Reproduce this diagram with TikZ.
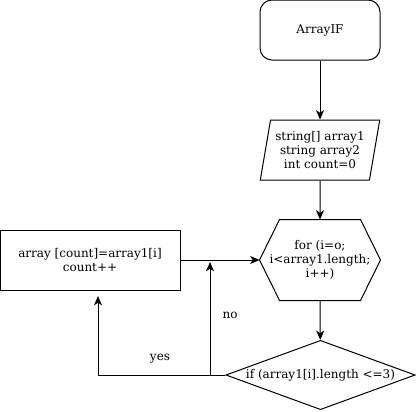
\documentclass[tikz,border=0pt]{standalone}
\usepackage{fontspec}
\setmainfont{DejaVu Serif}
\usepackage{tikz}
\usetikzlibrary{shapes.geometric,arrows.meta}

\tikzset{
  box/.style={draw, line width=0.75pt, align=center, font=\fontsize{9}{10.5}\selectfont},
  flow/.style={line width=0.75pt, -{Stealth[length=7pt,width=6pt,inset=2pt]}},
  lbl/.style={font=\fontsize{9}{10.5}\selectfont}
}

\begin{document}
\begin{tikzpicture}[x=0.75pt, y=-0.75pt]
    % canvas
    \useasboundingbox (0,0) rectangle (416,411);

    % start block
    \node[box, rounded corners=9pt, minimum width=90pt, minimum height=45pt] (start) at (320,30) {ArrayIF};

    % input: variables
    \node[box, trapezium, trapezium left angle=76, trapezium right angle=104, trapezium stretches=true,
          minimum width=90pt, minimum height=45pt, inner sep=0pt] (vars) at (320,150)
          {string[] array1\\string array2\\int count=0};

    % loop header (hexagon drawn round the node)
    \node[box, draw=none, minimum width=90pt, minimum height=60pt, inner sep=0pt] (loop) at (320,260)
          {for (i=o;\\i<array1.length;\\i++)};
    \draw[line width=0.75pt] (loop.west) -- ([xshift=15pt]loop.north west) -- ([xshift=-15pt]loop.north east)
          -- (loop.east) -- ([xshift=-15pt]loop.south east) -- ([xshift=15pt]loop.south west) -- cycle;

    % condition
    \node[box, diamond, aspect=2.7, minimum width=142pt, minimum height=52pt, inner sep=0pt] (cond) at (320.5,375)
          {if (array1[i].length <=3)};

    % loop body
    \node[box, minimum width=135pt, minimum height=45pt] (body) at (90,260)
          {array [count]=array1[i]\\count++};

    % free ends
    \coordinate (yesEnd) at (98,296);
    \coordinate (noEnd) at (210,262);

    % connectors
    \draw[flow] (start) -- (vars);
    \draw[flow] (vars) -- (loop.north);
    \draw[flow] (loop.south) -- (cond);
    \draw[flow] (body.east) -- (loop.west);
    \draw[flow] (cond.west) -| (yesEnd);
    \draw[flow] (cond.west -| noEnd) -- (noEnd);

    % branch labels
    \node[lbl] (yesLbl) at (160,359) {yes};
    \node[lbl] (noLbl) at (230,315) {no};
\end{tikzpicture}
\end{document}
